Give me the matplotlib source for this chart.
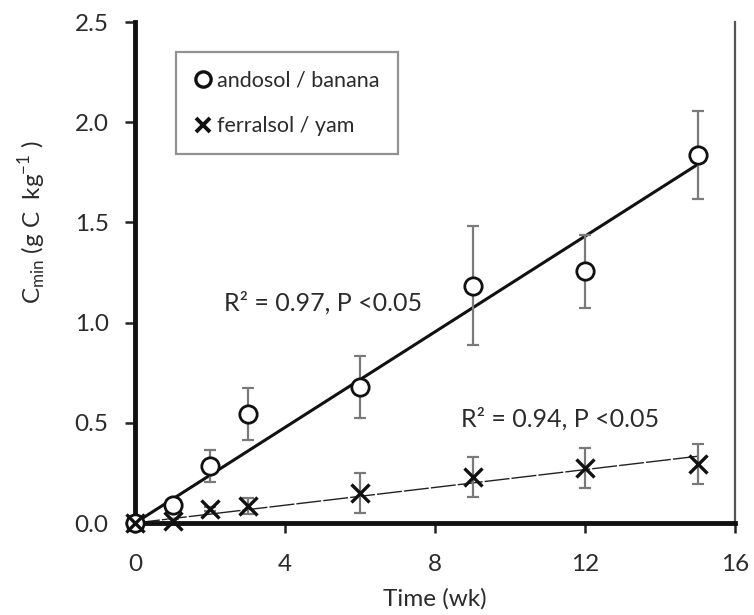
import numpy as np
import matplotlib
matplotlib.use("Agg")
import matplotlib.pyplot as plt
from matplotlib.lines import Line2D

plt.rcParams['font.family'] = ['Lato', 'DejaVu Sans']

time_wk = [0, 1, 2, 3, 6, 9, 12, 15]
andosol_banana = [0.0, 0.09, 0.285, 0.545, 0.68, 1.185, 1.255, 1.835]
andosol_err = [0.0, 0.03, 0.08, 0.13, 0.155, 0.295, 0.18, 0.22]
ferralsol_yam = [0.0, 0.01, 0.07, 0.085, 0.15, 0.23, 0.275, 0.295]
ferralsol_err = [0.0, 0.01, 0.01, 0.04, 0.10, 0.10, 0.10, 0.10]
xticks = [0, 4, 8, 12, 16]
yticks = [0.0, 0.5, 1.0, 1.5, 2.0, 2.5]
ann1 = "R² = 0.97, P <0.05"
ann2 = "R² = 0.94, P <0.05"

t = np.array(time_wk, dtype=float)
a = np.array(andosol_banana)
f = np.array(ferralsol_yam)
slope_a = np.sum(t * a) / np.sum(t * t)
slope_f = np.sum(t * f) / np.sum(t * t)
tfit = np.array([0.0, t.max()])

fig = plt.figure(figsize=(7.54, 6.15), dpi=100)
ax = fig.add_axes([135/754, 1-523/615, 600/754, 501/615])

txt = '#2b2b2b'
errc = '#7a7a7a'

ax.plot(tfit, slope_a * tfit, color='#111111', lw=2.2, zorder=2)
ax.plot(tfit, slope_f * tfit, color='#222222', lw=1.0, ls=(0, (18, 1.5)), zorder=2)

ax.errorbar(t, a, yerr=andosol_err, fmt='none', ecolor=errc, elinewidth=1.6,
            capsize=4.5, capthick=1.6, zorder=3)
ax.errorbar(t, f, yerr=ferralsol_err, fmt='none', ecolor=errc, elinewidth=1.6,
            capsize=4.5, capthick=1.6, zorder=3)
ax.plot(t, a, ls='none', marker='o', ms=12.5, mfc='white', mec='#111111', mew=2.0,
        zorder=7, clip_on=False)
ax.plot(t, f, ls='none', marker='x', ms=13, mec='#111111', mew=2.4, zorder=8,
        clip_on=False)

ax.set_xlim(0, 16)
ax.set_ylim(0, 2.5)
ax.set_xticks(xticks)
ax.set_yticks(yticks)
ax.set_yticklabels([f"{v:.1f}" for v in yticks])
ax.tick_params(axis='both', direction='out', length=7, width=1.8, color='#222222',
               labelsize=17.5, labelcolor=txt, pad=12)
ax.tick_params(axis='x', pad=15)

for s in ['left', 'bottom']:
    ax.spines[s].set_linewidth(3.5)
    ax.spines[s].set_color('#111111')
ax.spines['top'].set_visible(False)
ax.spines['right'].set_linewidth(1.6)
ax.spines['right'].set_color('#555555')
ax.spines['left'].set_zorder(6)
ax.spines['bottom'].set_zorder(6)

ax.set_xlabel("Time (wk)", fontsize=17.5, color=txt, labelpad=10)
fig.text(33/754, 1-222/615, "C$_{\\mathregular{min}}$ (g C  kg$^{\\mathregular{-1}}$ )",
         rotation=90, ha='center', va='center', fontsize=17.5, color=txt)

ax.text(2.37, 1.10, ann1, fontsize=18, color=txt, ha='left', va='center')
ax.text(8.69, 0.52, ann2, fontsize=18, color=txt, ha='left', va='center')

handles = [Line2D([], [], ls='none', marker='o', ms=11, mfc='white', mec='#111111', mew=2.4),
           Line2D([], [], ls='none', marker='x', ms=10.5, mec='#111111', mew=2.8)]
leg = ax.legend(handles, ['andosol / banana', 'ferralsol / yam'],
                loc='upper left', bbox_to_anchor=((176-135)/600, 1-(52-22)/501),
                fontsize=15.5, labelcolor=txt, frameon=True, fancybox=False,
                edgecolor='#777777', handlelength=0.8, handletextpad=0.25,
                labelspacing=1.2, borderpad=0.85, borderaxespad=0)
leg.get_frame().set_linewidth(1.6)
leg.set_zorder(10)
for tx in leg.get_texts():
    tx.set_color(txt)

fig.savefig("out.png", dpi=100)
